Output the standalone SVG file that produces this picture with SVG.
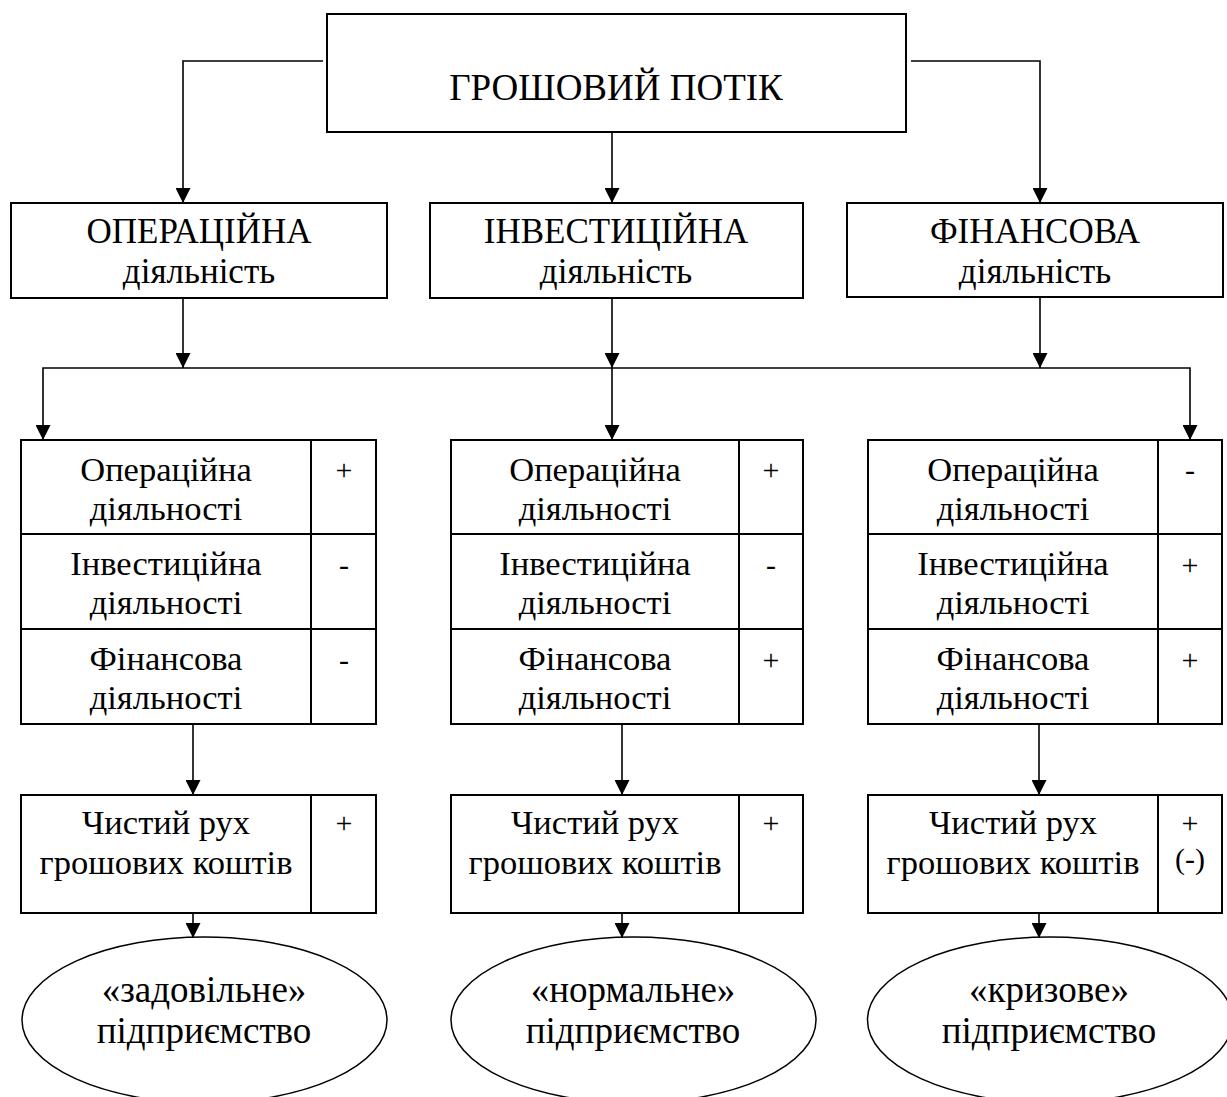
<svg xmlns="http://www.w3.org/2000/svg" width="1227" height="1097" viewBox="0 0 1227 1097">
<style>
text{font-family:"Liberation Serif","Times New Roman",serif;fill:#000;text-anchor:middle}
.t{font-size:37px}
.hd{font-size:35px}
.h{font-size:34.5px}
.e{font-size:37px}
.s{font-size:30px}
.box{fill:#fff;stroke:#000;stroke-width:2}
.ln{fill:none;stroke:#000;stroke-width:2}
.c{fill:none;stroke:#000;stroke-width:1.6}
.el{fill:#fff;stroke:#000;stroke-width:1.5}
</style>
<defs>
<marker id="ar" markerUnits="userSpaceOnUse" markerWidth="15" markerHeight="15" viewBox="0 0 15 15" refX="15" refY="7.5" orient="auto">
<path d="M0,0 L15,7.5 L0,15 z" fill="#000"/>
</marker>
</defs>
<rect width="1227" height="1097" fill="#fff"/>
<g id="connectors">
<path class="c" d="M323,61 H183 V203" marker-end="url(#ar)"/>
<path class="c" d="M612,132 V203" marker-end="url(#ar)"/>
<path class="c" d="M911,61 H1040 V203" marker-end="url(#ar)"/>
<path class="c" d="M183,298 V368" marker-end="url(#ar)"/>
<path class="c" d="M612,298 V368" marker-end="url(#ar)"/>
<path class="c" d="M1040,297 V368" marker-end="url(#ar)"/>
<path class="c" d="M612,368 H43 V440" marker-end="url(#ar)"/>
<path class="c" d="M612,368 H1190 V440" marker-end="url(#ar)"/>
<path class="c" d="M612,368 V440" marker-end="url(#ar)"/>
<path class="c" d="M193,724 V795" marker-end="url(#ar)"/>
<path class="c" d="M622,724 V795" marker-end="url(#ar)"/>
<path class="c" d="M1039,724 V795" marker-end="url(#ar)"/>
<path class="c" d="M193,913 V938" marker-end="url(#ar)"/>
<path class="c" d="M622,913 V938" marker-end="url(#ar)"/>
<path class="c" d="M1039,913 V938" marker-end="url(#ar)"/>
</g>
<g id="cash-flow">
<rect class="box" x="327" y="14" width="579" height="118"/>
<text class="t" x="616" y="100">ГРОШОВИЙ ПОТІК</text>
</g>
<g id="operating">
<rect class="box" x="11" y="203" width="376" height="95"/>
<text class="hd" x="199" y="243">ОПЕРАЦІЙНА</text>
<text class="hd" x="199" y="283">діяльність</text>
</g>
<g id="investing">
<rect class="box" x="430" y="203" width="373" height="95"/>
<text class="hd" x="616" y="243">ІНВЕСТИЦІЙНА</text>
<text class="hd" x="616" y="283">діяльність</text>
</g>
<g id="financing">
<rect class="box" x="847" y="203" width="376" height="94"/>
<text class="hd" x="1035" y="243">ФІНАНСОВА</text>
<text class="hd" x="1035" y="283">діяльність</text>
</g>
<g id="table-left">
<rect class="box" x="21" y="440" width="355" height="284"/>
<path class="ln" d="M311,440 V724 M21,534 H376 M21,629 H376"/>
<text class="h" x="166" y="481">Операційна</text>
<text class="h" x="166" y="520">діяльності</text>
<text class="h" x="166" y="575">Інвестиційна</text>
<text class="h" x="166" y="614">діяльності</text>
<text class="h" x="166" y="670">Фінансова</text>
<text class="h" x="166" y="709">діяльності</text>
<text class="s" x="344" y="480">+</text>
<text class="s" x="344" y="575">-</text>
<text class="s" x="344" y="670">-</text>
</g>
<g id="table-middle">
<rect class="box" x="451" y="440" width="352" height="284"/>
<path class="ln" d="M739,440 V724 M451,534 H803 M451,629 H803"/>
<text class="h" x="595" y="481">Операційна</text>
<text class="h" x="595" y="520">діяльності</text>
<text class="h" x="595" y="575">Інвестиційна</text>
<text class="h" x="595" y="614">діяльності</text>
<text class="h" x="595" y="670">Фінансова</text>
<text class="h" x="595" y="709">діяльності</text>
<text class="s" x="771" y="480">+</text>
<text class="s" x="771" y="575">-</text>
<text class="s" x="771" y="670">+</text>
</g>
<g id="table-right">
<rect class="box" x="868" y="440" width="354" height="284"/>
<path class="ln" d="M1158,440 V724 M868,534 H1222 M868,629 H1222"/>
<text class="h" x="1013" y="481">Операційна</text>
<text class="h" x="1013" y="520">діяльності</text>
<text class="h" x="1013" y="575">Інвестиційна</text>
<text class="h" x="1013" y="614">діяльності</text>
<text class="h" x="1013" y="670">Фінансова</text>
<text class="h" x="1013" y="709">діяльності</text>
<text class="s" x="1190" y="480">-</text>
<text class="s" x="1190" y="575">+</text>
<text class="s" x="1190" y="670">+</text>
</g>
<g id="net-left">
<rect class="box" x="21" y="795" width="355" height="118"/>
<path class="ln" d="M311,795 V913"/>
<text class="h" x="166" y="834">Чистий рух</text>
<text class="h" x="166" y="874">грошових коштів</text>
<text class="s" x="344" y="833">+</text>
</g>
<g id="net-middle">
<rect class="box" x="451" y="795" width="352" height="118"/>
<path class="ln" d="M739,795 V913"/>
<text class="h" x="595" y="834">Чистий рух</text>
<text class="h" x="595" y="874">грошових коштів</text>
<text class="s" x="771" y="833">+</text>
</g>
<g id="net-right">
<rect class="box" x="868" y="795" width="354" height="118"/>
<path class="ln" d="M1158,795 V913"/>
<text class="h" x="1013" y="834">Чистий рух</text>
<text class="h" x="1013" y="874">грошових коштів</text>
<text class="s" x="1190" y="833">+</text>
<text class="s" x="1190" y="869">(-)</text>
</g>
<g id="satisfactory">
<ellipse class="el" cx="204.5" cy="1020" rx="182.5" ry="83"/>
<text class="e" x="204" y="1002">«задовільне»</text>
<text class="e" x="204" y="1043">підприємство</text>
</g>
<g id="normal">
<ellipse class="el" cx="633.5" cy="1020" rx="182.5" ry="83"/>
<text class="e" x="633" y="1002">«нормальне»</text>
<text class="e" x="633" y="1043">підприємство</text>
</g>
<g id="crisis">
<ellipse class="el" cx="1050" cy="1020" rx="182.5" ry="83"/>
<text class="e" x="1049" y="1002">«кризове»</text>
<text class="e" x="1049" y="1043">підприємство</text>
</g>
</svg>
